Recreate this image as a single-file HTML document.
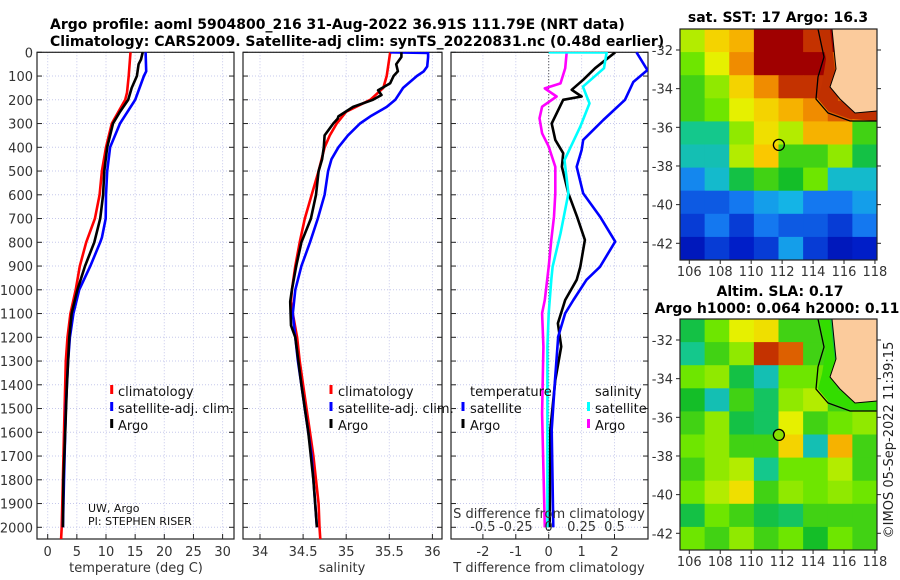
<!DOCTYPE html>
<html><head><meta charset="utf-8"><style>
html,body{margin:0;padding:0;background:#fff;}
svg{display:block;font-family:"DejaVu Sans","Liberation Sans",sans-serif;}
</style></head><body>
<svg id="chart" width="900" height="580" viewBox="0 0 900 580" xmlns="http://www.w3.org/2000/svg">
<defs>
<clipPath id="cp1"><rect x="37" y="52" width="197" height="487"/></clipPath>
<clipPath id="cp2"><rect x="243" y="52" width="199" height="487"/></clipPath>
<clipPath id="cp3"><rect x="451" y="52" width="197" height="487"/></clipPath>
</defs>
<g id="root"></g>
</svg>
<script>
// ---------- DATA ----------
const tClimDepth = [0,100,170,200,300,400,500,600,700,800,900,1000,1100,1200,1300,1400,1600,1800,2000,2050];
const tClimVal   = [14.2,13.9,13.6,13.3,11.0,10.0,9.3,8.9,8.1,6.6,5.5,4.8,3.9,3.4,3.1,3.0,2.8,2.6,2.4,2.3];
const tSatDepth  = [0,80,100,200,300,400,500,600,700,780,800,900,1000,1100,1200,1300,1500,1800,2000];
const tSatVal    = [16.8,16.9,16.5,15.0,12.4,10.7,10.2,10.0,9.95,9.3,9.0,7.3,5.4,4.4,3.8,3.5,3.1,2.8,2.6];
const tArgoDepth = [0,30,50,100,150,200,250,300,400,500,600,700,800,900,1000,1100,1200,1400,1600,1800,2000];
const tArgoVal   = [16.3,16.0,15.6,15.3,14.4,13.8,12.4,11.2,10.2,9.7,9.5,9.0,8.0,6.4,5.1,4.1,3.7,3.3,3.0,2.7,2.6];

const sClimDepth = [0,100,150,200,250,300,350,400,500,600,700,800,900,1000,1050,1100,1200,1300,1400,1500,1600,1700,1800,1900,2000,2050];
const sClimVal   = [35.51,35.47,35.43,35.28,35.0,34.89,34.81,34.75,34.68,34.6,34.52,34.46,34.41,34.37,34.36,34.38,34.43,34.46,34.5,34.54,34.58,34.62,34.65,34.68,34.69,34.70];
const sSatDepth  = [0,3,20,60,80,100,150,200,230,270,300,350,400,450,500,600,700,800,900,1000,1100,1200,1300,1400,1500,1600,1700,1800,1900,2000];
const sSatVal    = [35.51,35.95,35.95,35.94,35.9,35.82,35.66,35.57,35.47,35.28,35.16,35.02,34.91,34.83,34.79,34.75,34.67,34.58,34.48,34.41,34.38,34.41,34.44,34.48,34.52,34.56,34.6,34.62,34.64,34.66];
const sArgoDepth = [0,20,50,80,100,130,160,180,200,230,270,280,300,350,400,450,500,600,700,800,900,1000,1050,1150,1200,1400,1600,1800,2000];
const sArgoVal   = [35.64,35.64,35.58,35.6,35.55,35.51,35.37,35.41,35.31,35.08,34.91,34.9,34.85,34.75,34.74,34.72,34.68,34.65,34.59,34.48,34.42,34.37,34.35,34.36,34.41,34.48,34.56,34.62,34.66];

const dTSatDepth  = [0,75,125,200,285,369,412,482,594,692,797,903,958,1043,1099,1197,1380,1590,2000];
const dTSatVal    = [2.67,3.0,2.57,2.32,1.66,1.05,1.0,0.85,1.05,1.56,2.02,1.56,1.15,0.75,0.5,0.29,0.19,0.09,0.14];
const dTArgoDepth = [0,67,116,158,186,200,300,369,425,482,594,692,790,903,958,1043,1141,1239,1380,1590,2000];
const dTArgoVal   = [2.02,1.41,1.05,0.7,1.0,0.44,0.09,0.2,0.44,0.4,0.6,0.86,1.1,0.96,0.85,0.5,0.28,0.38,0.2,0.05,0.03];
const dSSatDepth  = [0,1,67,145,215,313,454,594,763,903,958,1099,1239,1520,2000];
const dSSatVal    = [0.0,0.44,0.42,0.26,0.31,0.24,0.12,0.15,0.09,0.03,0.02,0.0,-0.01,-0.01,-0.01];
const dSArgoDepth = [0,67,131,152,186,229,278,341,397,482,594,692,790,903,1043,1099,1239,1520,2000];
const dSArgoVal   = [0.137,0.125,0.09,-0.03,0.06,-0.05,-0.07,-0.05,0.0,0.05,0.05,0.04,0.02,0.0,-0.03,-0.05,-0.04,-0.05,-0.03];

const depthTicks = [0,100,200,300,400,500,600,700,800,900,1000,1100,1200,1300,1400,1500,1600,1700,1800,1900,2000];
const tempTicks = [0,5,10,15,20,25,30];
const salTicks = [34,34.5,35,35.5,36];
const salTickLabels = ["34","34.5","35","35.5","36"];
const dTTicks = [-2,-1,0,1,2];
const dSTicks = [-0.5,-0.25,0,0.25,0.5];
const dSTickLabels = ["-0.5","-0.25","0","0.25","0.5"];
const lonTicks = [106,108,110,112,114,116,118];
const latTicks = [-32,-34,-36,-38,-40,-42];

// SST grid (colormap index 0..1), 8 cols x 10 rows, -1 = land
const sstGrid = [
 [0.62,0.70,0.75,0.95,0.95,0.90,0.95,-1],
 [0.58,0.65,0.80,0.95,0.95,0.95,0.85,-1],
 [0.55,0.60,0.70,0.80,0.90,0.90,0.85,-1],
 [0.55,0.58,0.65,0.70,0.75,0.80,0.85,0.80],
 [0.45,0.45,0.60,0.68,0.62,0.75,0.75,0.55],
 [0.42,0.42,0.62,0.72,0.55,0.55,0.60,0.50],
 [0.32,0.40,0.50,0.55,0.52,0.58,0.40,0.40],
 [0.25,0.25,0.30,0.35,0.38,0.30,0.30,0.35],
 [0.20,0.30,0.20,0.30,0.25,0.25,0.20,0.30],
 [0.12,0.20,0.15,0.20,0.35,0.20,0.12,0.15]];
const slaGrid = [
 [0.50,0.58,0.65,0.68,0.55,0.55,0.50,-1],
 [0.45,0.55,0.60,0.90,0.85,0.55,0.50,-1],
 [0.58,0.60,0.50,0.42,0.58,0.58,0.50,-1],
 [0.52,0.42,0.55,0.48,0.60,0.62,0.55,0.55],
 [0.55,0.60,0.50,0.48,0.65,0.55,0.58,0.60],
 [0.58,0.60,0.55,0.55,0.70,0.42,0.75,0.55],
 [0.55,0.60,0.62,0.45,0.58,0.58,0.62,0.55],
 [0.58,0.62,0.68,0.55,0.60,0.58,0.60,0.58],
 [0.50,0.58,0.55,0.50,0.48,0.55,0.55,0.55],
 [0.58,0.55,0.60,0.55,0.58,0.52,0.58,0.55]];

// ---------- HELPERS ----------
const NS="http://www.w3.org/2000/svg";
const root=document.getElementById('root');
function el(tag,attrs,parent){const e=document.createElementNS(NS,tag);for(const k in attrs)e.setAttribute(k,attrs[k]);(parent||root).appendChild(e);return e;}
function txt(s,x,y,attrs,parent){const e=el('text',Object.assign({x:x,y:y,'font-size':13,fill:'#333'},attrs||{}),parent);e.textContent=s;return e;}
const yTop=52.3, pxPerM=0.2375;
function yD(d){return yTop+d*pxPerM;}
const xT=v=>47.7+5.83*v;
const xS=v=>260+86.2*(v-34);
const xDT=v=>548.7+32.9*v;
const xDS=v=>548.7+131.6*v;
const cmapStops=[[0,[0,0,140]],[0.15,[0,30,200]],[0.3,[20,120,240]],[0.38,[20,180,230]],[0.45,[20,200,140]],[0.52,[20,190,40]],[0.58,[110,230,0]],[0.65,[230,240,0]],[0.72,[250,200,0]],[0.8,[240,140,0]],[0.88,[210,70,0]],[0.95,[160,0,0]],[1,[130,0,0]]];
function cmap(v){
  for(let i=1;i<cmapStops.length;i++){
    if(v<=cmapStops[i][0]){const a=cmapStops[i-1],b=cmapStops[i],f=(v-a[0])/(b[0]-a[0]);
      return 'rgb('+a[1].map((c,k)=>Math.round(c+(b[1][k]-c)*f)).join(',')+')';}
  }
  return 'rgb(130,0,0)';
}
function line(depths,vals,xf,color,clip,name){
  const pts=depths.map((d,i)=>xf(vals[i]).toFixed(1)+','+yD(d).toFixed(1)).join(' ');
  const p=el('polyline',{points:pts,fill:'none',stroke:color,'stroke-width':2.6,'stroke-linejoin':'round','clip-path':'url(#'+clip+')'});
  
  
}
function panel(x0,x1,ticks,labels,xf,name,showYLabels){
  const g=el('g',{});
  
  
  const yB=539;
  ticks.forEach(t=>{const x=xf(t);el('line',{x1:x,x2:x,y1:yTop,y2:yB,stroke:'#c6c8ec','stroke-width':1,'stroke-dasharray':'1,2'},g);});
  depthTicks.forEach(d=>{const y=yD(d);el('line',{x1:x0,x2:x1,y1:y,y2:y,stroke:'#c6c8ec','stroke-width':1,'stroke-dasharray':'1,2'},g);
    el('line',{x1:x0,x2:x0+5,y1:y,y2:y,stroke:'#222'},g);el('line',{x1:x1-5,x2:x1,y1:y,y2:y,stroke:'#222'},g);
    if(showYLabels){const t=txt(String(d),33,y+5,{'text-anchor':'end'},g);}
  });
  if(labels){ticks.forEach((t,i)=>{const x=xf(t);el('line',{x1:x,x2:x,y1:yB-5,y2:yB,stroke:'#222'},g);
    const l=txt(labels[i],x,556,{'text-anchor':'middle'},g);});}
  el('rect',{x:x0,y:yTop,width:x1-x0,height:yB-yTop,fill:'none',stroke:'#222','stroke-width':1.2},g);
  return g;
}

// ---------- TITLES ----------
let t1=txt('Argo profile: aoml 5904800_216 31-Aug-2022 36.91S 111.79E (NRT data)',50,29,{'font-size':14,'font-weight':'bold',fill:'#000'});

let t2=txt('Climatology: CARS2009. Satellite-adj clim: synTS_20220831.nc (0.48d earlier)',50,46,{'font-size':14,'font-weight':'bold',fill:'#000'});


// ---------- PANEL 1 TEMPERATURE ----------
panel(37,234,tempTicks,tempTicks.map(String),xT,'temperature-panel',true);
line(tClimDepth,tClimVal,xT,'#ff0000','cp1','temp-climatology-line');
line(tSatDepth,tSatVal,xT,'#0000ff','cp1','temp-satellite-line');
line(tArgoDepth,tArgoVal,xT,'#000000','cp1','temp-argo-line');
let xt1=txt('temperature (deg C)',136,572,{'text-anchor':'middle'});

// ---------- PANEL 2 SALINITY ----------
panel(243,442,salTicks,salTickLabels,xS,'salinity-panel',false);
line(sClimDepth,sClimVal,xS,'#ff0000','cp2','sal-climatology-line');
line(sSatDepth,sSatVal,xS,'#0000ff','cp2','sal-satellite-line');
line(sArgoDepth,sArgoVal,xS,'#000000','cp2','sal-argo-line');
let xt2=txt('salinity',342,572,{'text-anchor':'middle'});

// ---------- PANEL 3 DIFFERENCES ----------
panel(451,648,dTTicks,dTTicks.map(String),xDT,'difference-panel',false);
el('line',{x1:xDT(0),x2:xDT(0),y1:yTop,y2:539,stroke:'#333','stroke-dasharray':'1,2'});
line(dSArgoDepth,dSArgoVal,xDS,'#ff00ff','cp3','sal-diff-argo-line');
line(dTArgoDepth,dTArgoVal,xDT,'#000000','cp3','temp-diff-argo-line');
line(dSSatDepth,dSSatVal,xDS,'#00ffff','cp3','sal-diff-satellite-line');
line(dTSatDepth,dTSatVal,xDT,'#0000ff','cp3','temp-diff-satellite-line');
let xt3=txt('T difference from climatology',549,572,{'text-anchor':'middle'});
let st=txt('S difference from climatology',549,518,{'text-anchor':'middle'});
dSTicks.forEach((v,i)=>{const l=txt(dSTickLabels[i],xDS(v),531,{'text-anchor':'middle'});});

// ---------- LEGENDS ----------
function legend(items,mx,tx){items.forEach(it=>{
  const m=el('rect',{x:mx-1.5,y:it[2]-11,width:3,height:9,fill:it[1]});
  const t=txt(it[0],tx,it[2],{fill:'#111'});});}
legend([['climatology','#ff0000',396],['satellite-adj. clim.','#0000ff',413],['Argo','#000',430]],111.7,118);
legend([['climatology','#ff0000',396],['satellite-adj. clim.','#0000ff',413],['Argo','#000',430]],331,338);
let lt=txt('temperature',470,396,{fill:'#111'});
let ls=txt('salinity',595,396,{fill:'#111'});
legend([['satellite','#0000ff',413],['Argo','#000',430]],463,470);
legend([['satellite','#00ffff',413],['Argo','#ff00ff',430]],588.5,595);
let pi1=txt('UW, Argo',88,512,{'font-size':11,fill:'#111'});
let pi2=txt('PI: STEPHEN RISER',88,525,{'font-size':11,fill:'#111'});

// ---------- MAPS ----------
function map(top,grid,name,shelfColor){
  const x0=680,x1=877,h=231,w=x1-x0;
  const g=el('g',{});
  
  
  const rows=grid.length,cols=grid[0].length,cw=w/cols,ch=h/rows;
  grid.forEach((row,r)=>row.forEach((v,c)=>{
    const cell=el('rect',{x:x0+c*cw,y:top+r*ch,width:cw+0.5,height:ch+0.5,fill:v<0?'#fbcb9c':cmap(v)},g);
    
    
  }));
  el('polygon',{points:`${x0+140},${top} ${x0+146},${top+30} ${x0+142},${top+55} ${x0+138},${top+70} ${x0+148},${top+82} ${x0+170},${top+90} ${x1},${top+92} ${x1},${top+74} ${x0+158},${top+72} ${x0+156},${top+50} ${x0+150},${top}`,fill:shelfColor},g);
  el('polygon',{points:`${x0+152},${top} ${x1},${top} ${x1},${top+82} ${x0+175},${top+84} ${x0+160},${top+70} ${x0+150},${top+58} ${x0+156},${top+40}`,fill:'#fbcb9c'},g);
  el('polyline',{points:`${x0+138},${top} ${x0+144},${top+28} ${x0+138},${top+48} ${x0+136},${top+70} ${x0+148},${top+84} ${x0+170},${top+92} ${x1},${top+92}`,fill:'none',stroke:'#000','stroke-width':1.3},g);
  el('polyline',{points:`${x0+152},${top} ${x0+156},${top+40} ${x0+150},${top+58} ${x0+160},${top+70} ${x0+175},${top+84} ${x1},${top+82}`,fill:'none',stroke:'#000','stroke-width':1},g);
  el('rect',{x:x0,y:top,width:w,height:h,fill:'none',stroke:'#222','stroke-width':1.2},g);
  const lonX=l=>689.3+(l-106)*15.47, latY=la=>top+21+(-32-la)*19.33;
  lonTicks.forEach(l=>{const x=lonX(l);el('line',{x1:x,x2:x,y1:top+h,y2:top+h+4,stroke:'#222'},g);
    const t=txt(String(l),x,top+h+16,{'text-anchor':'middle'},g);});
  latTicks.forEach(la=>{const y=latY(la);el('line',{x1:x0-4,x2:x0,y1:y,y2:y,stroke:'#222'},g);el('line',{x1:x1,x2:x1+4,y1:y,y2:y,stroke:'#222'},g);
    const t=txt(String(la),673,y+5,{'text-anchor':'end'},g);});
  const c=el('circle',{cx:lonX(111.79),cy:latY(-36.91),r:5.5,fill:'none',stroke:'#000','stroke-width':1.3},g);
  
  return c;
}
map(29,sstGrid,'sst-map','#c03000');
const m2=map(319,slaGrid,'sla-map','#33dd00');
m2.setAttribute('fill','#88e000');
let mt1=txt('sat. SST: 17 Argo: 16.3',778,22,{'font-size':14,'font-weight':'bold',fill:'#000','text-anchor':'middle'});
let mt2=txt('Altim. SLA: 0.17',780,296,{'font-size':14,'font-weight':'bold',fill:'#000','text-anchor':'middle'});
let mt3=txt('Argo h1000: 0.064 h2000: 0.11',777,313,{'font-size':14,'font-weight':'bold',fill:'#000','text-anchor':'middle'});
let cr=txt('©IMOS 05-Sep-2022 11:39:15',0,0,{'font-size':13,fill:'#222','text-anchor':'middle',transform:'translate(893,440) rotate(-90)'});
</script>
</body></html>
